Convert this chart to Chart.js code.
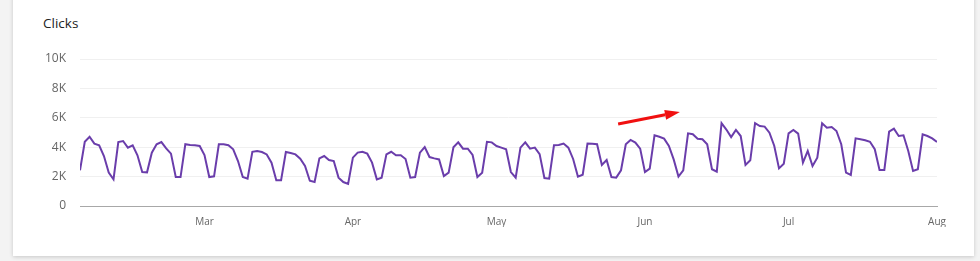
<!DOCTYPE html>
<html>
<head>
<meta charset="utf-8">
<script src="https://cdn.jsdelivr.net/npm/chart.js@4.4.1/dist/chart.umd.min.js"></script>
<style>
  html, body { margin: 0; padding: 0; background: #f3f3f3; overflow: hidden; }
  .card {
    position: absolute; left: 13px; top: -10px; width: 961px; height: 266px;
    background: #fff; box-shadow: 0 1px 4px rgba(0,0,0,0.18);
  }
  .card-title {
    position: absolute; left: 43px; top: 14px;
    font: 13.5px "Open Sans", sans-serif; color: #222;
  }
  #wrap { position: absolute; left: 0; top: 0; width: 980px; height: 261px; }
</style>
</head>
<body>
<div class="card"></div>
<div class="card-title">Clicks</div>
<div id="wrap"><canvas id="clicksChart"></canvas></div>
<script>
// daily clicks, one value per day starting at startDate
const startDate = '2022-02-03';
const clicks = [
  2430, 4370, 4710, 4240, 4130, 3400, 2270, 1810, 4350, 4420,
  3970, 4130, 3450, 2310, 2290, 3630, 4200, 4350, 3920, 3560,
  1970, 1970, 4200, 4150, 4130, 4080, 3470, 1970, 2020, 4200,
  4200, 4130, 3860, 3060, 1970, 1860, 3690, 3740, 3670, 3510,
  2950, 1750, 1750, 3670, 3600, 3510, 3220, 2720, 1720, 1630,
  3240, 3400, 3130, 3060, 1930, 1630, 1500, 3290, 3630, 3690,
  3560, 2950, 1810, 1930, 3510, 3690, 3450, 3450, 3200, 1930,
  1970, 3630, 4010, 3330, 3240, 3170, 2040, 2270, 4000, 4330,
  3900, 3900, 3470, 1970, 2270, 4370, 4330, 4080, 3970, 3860,
  2310, 1930, 3970, 4330, 3900, 3970, 3530, 1900, 1860, 4130,
  4150, 4250, 3970, 3200, 2000, 2130, 4250, 4240, 4200, 2790,
  3130, 1970, 1930, 2430, 4200, 4490, 4310, 3900, 2310, 2540,
  4810, 4710, 4580, 4080, 3170, 2000, 2430, 4940, 4880, 4580,
  4540, 4200, 2500, 2330, 5630, 5200, 4690, 5170, 4760, 2790,
  3110, 5630, 5440, 5400, 4990, 4100, 2560, 2880, 4940, 5170,
  4920, 2950, 3740, 2720, 3290, 5630, 5330, 5370, 5100, 4200,
  2270, 2110, 4600, 4540, 4470, 4370, 3860, 2450, 2450, 5060,
  5260, 4760, 4810, 3740, 2380, 2500, 4880, 4760, 4600, 4350
];
const monthTickDates = ['2022-03-01', '2022-04-01', '2022-05-01', '2022-06-01', '2022-07-01', '2022-08-01'];
const monthTickLabels = ['Mar', 'Apr', 'May', 'Jun', 'Jul', 'Aug'];
const yTicks = [0, 2000, 4000, 6000, 8000, 10000];

// red trend arrow, in [day offset, clicks]
const arrowFrom = [112.4, 5580];
const arrowTo = [125.3, 6400];

const DAY = 86400000;
const dayOffset = (d) => Math.round((Date.parse(d) - Date.parse(startDate)) / DAY);
const tickValues = monthTickDates.map(dayOffset);
const points = clicks.map((v, i) => ({ x: i, y: v }));

const arrowPlugin = {
  id: 'trendArrow',
  afterDatasetsDraw(chart) {
    const { ctx, scales: { x, y } } = chart;
    const x1 = x.getPixelForValue(arrowFrom[0]), y1 = y.getPixelForValue(arrowFrom[1]);
    const x2 = x.getPixelForValue(arrowTo[0]), y2 = y.getPixelForValue(arrowTo[1]);
    const ang = Math.atan2(y2 - y1, x2 - x1);
    const headLen = 15, headW = 5;
    const bx = x2 - headLen * Math.cos(ang), by = y2 - headLen * Math.sin(ang);
    ctx.save();
    ctx.strokeStyle = '#f01010';
    ctx.fillStyle = '#f01010';
    ctx.lineWidth = 3;
    ctx.beginPath();
    ctx.moveTo(x1, y1);
    ctx.lineTo(bx, by);
    ctx.stroke();
    ctx.beginPath();
    ctx.moveTo(x2, y2);
    ctx.lineTo(bx + headW * Math.sin(ang), by - headW * Math.cos(ang));
    ctx.lineTo(bx - headW * Math.sin(ang), by + headW * Math.cos(ang));
    ctx.closePath();
    ctx.fill();
    ctx.restore();
  }
};

new Chart(document.getElementById('clicksChart'), {
  type: 'line',
  data: {
    datasets: [{
      label: 'Clicks',
      data: points,
      borderColor: '#6a3dab',
      borderWidth: 2,
      pointRadius: 0,
      tension: 0,
      fill: false
    }]
  },
  options: {
    responsive: true,
    maintainAspectRatio: false,
    animation: false,
    layout: { padding: { left: 0, top: 59, right: 43, bottom: 34 } },
    plugins: { legend: { display: false }, tooltip: { enabled: false } },
    scales: {
      x: {
        type: 'linear',
        min: 0,
        max: clicks.length - 1,
        afterBuildTicks: (scale) => { scale.ticks = tickValues.map(v => ({ value: v })); },
        afterFit: (scale) => { scale.height = 21; },
        grid: { display: false, drawTicks: false },
        border: { display: true, color: '#a8a8a8', width: 1 },
        ticks: {
          autoSkip: false,
          maxRotation: 0,
          padding: 10,
          color: '#666',
          font: { family: 'Open Sans', size: 10 },
          callback: (v) => monthTickLabels[tickValues.indexOf(v)]
        }
      },
      y: {
        min: 0,
        max: 10000,
        afterBuildTicks: (scale) => { scale.ticks = yTicks.map(v => ({ value: v })); },
        afterFit: (scale) => { scale.width = 80; },
        grid: { color: '#f0f0f0', drawTicks: false },
        border: { display: false },
        ticks: {
          padding: 14,
          color: '#666',
          font: { family: 'Open Sans', size: 12 },
          callback: (v) => v === 0 ? '0' : (v / 1000) + 'K'
        }
      }
    }
  },
  plugins: [arrowPlugin]
});
</script>
</body>
</html>
